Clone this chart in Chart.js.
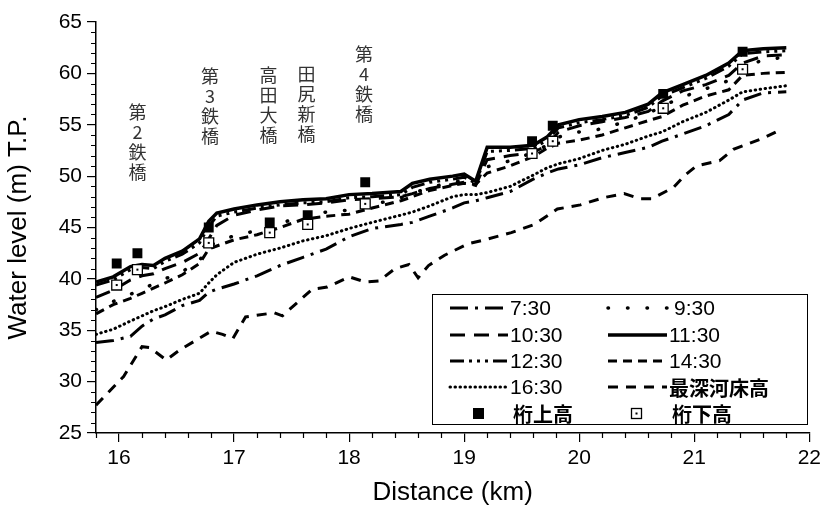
<!DOCTYPE html>
<html>
<head>
<meta charset="utf-8">
<script src="https://cdn.jsdelivr.net/npm/chart.js@4.4.1/dist/chart.umd.min.js"></script>
<style>
  html, body { margin: 0; padding: 0; background: #fff; }
</style>
</head>
<body>
<canvas id="chart" width="825" height="506"></canvas>
<script>
// distance (km) shared by the water surface profiles
var km = [15.8, 15.95, 16.1, 16.2, 16.3, 16.4, 16.55, 16.7, 16.78, 16.85, 17.0, 17.2, 17.4, 17.6, 17.8, 18.0, 18.2, 18.45, 18.55, 18.7,
  18.9, 19.0, 19.1, 19.2, 19.4, 19.6, 19.72, 19.82, 20.0, 20.2, 20.4, 20.6, 20.72, 20.9, 21.1, 21.3, 21.42, 21.6, 21.8]

var wl0730 = [33.8, 34.0, 34.4, 35.4, 36.1, 36.5, 37.4, 37.9, 38.7, 39.0, 39.5, 40.3, 41.3, 42.1, 42.9, 44.1, 44.9, 45.3, 45.5, 46.1,
  46.9, 47.4, 47.6, 47.9, 48.5, 49.7, 50.3, 50.7, 51.1, 51.8, 52.3, 52.8, 53.4, 54.1, 54.9, 56.0, 57.4, 58.1, 58.2]
var wl0930 = [37.0, 37.8, 38.5, 39.0, 39.5, 40.0, 40.7, 41.8, 43.2, 43.6, 44.2, 44.7, 45.4, 46.1, 46.5, 46.7, 47.2, 47.9, 48.3, 48.9,
  49.4, 49.6, 49.4, 50.9, 51.5, 52.3, 53.0, 53.8, 54.3, 54.6, 55.3, 56.1, 56.8, 57.7, 58.5, 59.3, 60.6, 61.3, 61.6]
var wl1030 = [38.2, 38.9, 39.9, 40.3, 40.5, 41.0, 41.6, 42.5, 43.9, 45.2, 46.2, 46.7, 47.1, 47.2, 47.4, 47.7, 47.8, 48.0, 48.3, 48.8,
  49.2, 49.4, 49.1, 51.6, 52.0, 52.3, 53.0, 54.3, 54.9, 55.3, 55.7, 56.3, 57.3, 58.3, 58.9, 59.8, 61.0, 61.7, 61.8]
var wl1130 = [39.7, 40.2, 41.2, 41.4, 41.3, 42.0, 42.7, 43.9, 45.6, 46.4, 46.8, 47.2, 47.5, 47.7, 47.8, 48.2, 48.3, 48.5, 49.3, 49.7,
  50.0, 50.2, 49.5, 52.8, 52.8, 53.0, 53.8, 55.0, 55.5, 55.8, 56.2, 57.0, 58.1, 58.9, 59.8, 61.0, 62.2, 62.4, 62.5]
var wl1230 = [39.4, 39.9, 40.9, 41.1, 41.0, 41.7, 42.4, 43.5, 45.1, 46.1, 46.5, 46.9, 47.2, 47.4, 47.5, 47.9, 48.0, 48.2, 48.9, 49.4,
  49.7, 49.9, 49.3, 52.4, 52.5, 52.7, 53.5, 54.7, 55.2, 55.5, 55.9, 56.7, 57.8, 58.6, 59.5, 60.7, 61.9, 62.1, 62.2]
var wl1430 = [36.6, 37.5, 38.1, 38.6, 39.1, 39.6, 40.4, 41.5, 42.9, 43.2, 43.8, 44.3, 45.0, 45.8, 46.1, 46.3, 46.9, 47.6, 48.0, 48.6,
  49.1, 49.3, 49.2, 50.3, 51.0, 51.9, 52.7, 53.2, 53.5, 54.0, 54.7, 55.4, 55.8, 56.9, 57.8, 58.4, 59.8, 60.0, 60.1]
var wl1630 = [34.6, 35.1, 35.9, 36.4, 36.9, 37.3, 38.0, 38.6, 39.6, 40.4, 41.6, 42.4, 43.0, 43.7, 44.2, 44.9, 45.5, 46.2, 46.5, 47.1,
  48.0, 48.2, 48.2, 48.4, 49.0, 50.1, 50.8, 51.2, 51.7, 52.5, 53.1, 53.9, 54.3, 55.3, 56.2, 57.4, 58.2, 58.5, 58.8]

// deepest river bed
var bedKm = [15.8, 16.04, 16.2, 16.27, 16.41, 16.53, 16.8, 16.9, 16.99, 17.1, 17.35, 17.42, 17.68, 17.81, 18.0, 18.14, 18.26, 18.4, 18.52, 18.6,
  18.69, 18.83, 19.03, 19.18, 19.41, 19.61, 19.81, 20.01, 20.21, 20.39, 20.53, 20.63, 20.82, 20.92, 21.02, 21.22, 21.34, 21.6, 21.71, 21.76]
var bedLevel = [27.7, 30.5, 33.4, 33.3, 32.1, 33.1, 34.9, 34.6, 34.2, 36.3, 36.7, 36.4, 39.0, 39.2, 40.2, 39.7, 39.8, 41.0, 41.4, 40.1,
  41.3, 42.3, 43.4, 43.8, 44.5, 45.3, 46.8, 47.2, 47.9, 48.3, 47.8, 47.8, 48.9, 50.1, 51.0, 51.5, 52.6, 53.7, 54.3, 54.2]

// bridge girders
var girderKm = [15.98, 16.16, 16.78, 17.31, 17.64, 18.14, 19.59, 19.77, 20.73, 21.42]
var girderTop = [41.5, 42.5, 45.0, 45.5, 46.2, 49.4, 53.4, 54.9, 58.0, 62.1]
var girderBottom = [39.4, 40.9, 43.5, 44.5, 45.3, 47.3, 52.2, 53.4, 56.6, 60.4]

// bridge names written vertically
var bridgeNames = ["第2鉄橋", "第3鉄橋", "高田大橋", "田尻新橋", "第4鉄橋"]
var bridgeKm = [16.16, 16.79, 17.30, 17.63, 18.13]
var bridgeY = [56.2, 59.7, 59.8, 59.9, 61.9]

var seriesLabels = ["7:30", "9:30", "10:30", "11:30", "12:30", "14:30", "16:30", "最深河床高", "桁上高", "桁下高"]

function pts(xs, ys) {
  return xs.map(function (x, i) { return { x: x, y: ys[i] } })
}

function lineSet(label, xs, ys, dash, width, cap) {
  return {
    label: label,
    data: pts(xs, ys),
    borderColor: "#000",
    borderWidth: width,
    borderDash: dash,
    borderCapStyle: cap || "butt",
    pointRadius: 0,
    fill: false,
    tension: 0
  }
}

var datasets = [
  lineSet(seriesLabels[0], km, wl0730, [18, 7, 3, 7], 3),
  lineSet(seriesLabels[1], km, wl0930, [0.5, 19], 3.5, "round"),
  lineSet(seriesLabels[2], km, wl1030, [15, 9], 3),
  lineSet(seriesLabels[3], km, wl1130, [], 3.5),
  lineSet(seriesLabels[4], km, wl1230, [14, 5, 3, 5, 3, 5, 3, 5], 3),
  lineSet(seriesLabels[5], km, wl1430, [9, 6], 3),
  lineSet(seriesLabels[6], km, wl1630, [0.5, 4.5], 3, "round"),
  lineSet(seriesLabels[7], bedKm, bedLevel, [10, 8], 3),
  {
    label: seriesLabels[8],
    data: pts(girderKm, girderTop),
    showLine: false,
    pointStyle: "rect",
    pointRadius: 7,
    backgroundColor: "#000",
    borderColor: "#000",
    borderWidth: 0,
    order: -1
  },
  {
    label: seriesLabels[9],
    data: pts(girderKm, girderBottom),
    showLine: false,
    pointStyle: "rect",
    pointRadius: 7,
    backgroundColor: "#fff",
    borderColor: "#000",
    borderWidth: 1.3,
    order: -1
  }
]

var FONT = "Liberation Sans, Arial, sans-serif"
var CJK = "'Noto Sans CJK JP', sans-serif"

// minor ticks, bridge names, legend box
var extras = {
  id: "extras",
  afterDraw: function (chart) {
    var ctx = chart.ctx
    var xs = chart.scales.x
    var ys = chart.scales.y
    var area = chart.chartArea
    ctx.save()
    ctx.strokeStyle = "#000"
    ctx.lineWidth = 1.2
    ctx.beginPath()
    for (var t = 158; t <= 220; t += 2) {
      if (t % 10 === 0) continue
      var px = Math.round(xs.getPixelForValue(t / 10)) + 0.5
      ctx.moveTo(px, area.bottom)
      ctx.lineTo(px, area.bottom + 5)
    }
    for (var v = 25; v <= 65; v++) {
      if (v % 5 === 0) continue
      var py = Math.round(ys.getPixelForValue(v)) + 0.5
      ctx.moveTo(area.left, py)
      ctx.lineTo(area.left - 5, py)
    }
    ctx.stroke()

    // dot in the middle of the open squares
    ctx.fillStyle = "#000"
    chart.getDatasetMeta(9).data.forEach(function (p) {
      ctx.fillRect(p.x - 1, p.y - 1, 2, 2)
    })

    // bridge names
    ctx.fillStyle = "#333"
    ctx.font = "18px " + CJK
    ctx.textAlign = "center"
    ctx.textBaseline = "middle"
    bridgeNames.forEach(function (name, i) {
      var cx = xs.getPixelForValue(bridgeKm[i])
      var cy = ys.getPixelForValue(bridgeY[i])
      Array.from(name).forEach(function (ch, j) {
        ctx.fillText(ch, cx, cy + j * 20)
      })
    })

    // legend
    var bx = 432.5, by = 294.5, bw = 375, bh = 130
    ctx.fillStyle = "#fff"
    ctx.fillRect(bx, by, bw, bh)
    ctx.strokeStyle = "#000"
    ctx.lineWidth = 1
    ctx.setLineDash([])
    ctx.strokeRect(bx, by, bw, bh)
    var rows = [308, 335, 361, 387, 413]
    var cols = [[450, 508], [608, 667]]
    ctx.textAlign = "left"
    chart.data.datasets.forEach(function (ds, i) {
      var c = cols[i % 2]
      var y = rows[Math.floor(i / 2)]
      ctx.fillStyle = "#000"
      if (ds.showLine === false) {
        var mx = c[0] + 28
        if (ds.backgroundColor === "#000") {
          ctx.fillRect(mx - 5, y - 5, 11, 11)
        } else {
          ctx.lineWidth = 1.3
          ctx.strokeRect(mx - 4.5, y - 4.5, 10, 10)
          ctx.fillRect(mx - 0.5, y - 0.5, 2, 2)
        }
        ctx.font = "bold 20px " + CJK
        ctx.fillText(ds.label, c[1] + 5, y + 1)
        return
      }
      ctx.save()
      ctx.lineWidth = ds.borderWidth
      ctx.lineCap = ds.borderCapStyle
      ctx.setLineDash(ds.borderDash)
      ctx.beginPath()
      ctx.moveTo(c[0], y)
      ctx.lineTo(c[1], y)
      ctx.stroke()
      ctx.restore()
      var tx = c[1] + 2
      if (/^[0-9:]+$/.test(ds.label)) {
        ctx.font = "21px " + FONT
        if (ds.label.length < 5) tx += 5
        if (i % 2 === 0) tx = c[1] + 2
      } else {
        ctx.font = "bold 20px " + CJK
      }
      ctx.fillText(ds.label, tx, y + 1)
    })
    ctx.restore()
  }
}

var config = {
  type: "line",
  data: { datasets: datasets },
  options: {
    responsive: false,
    animation: false,
    layout: { padding: { left: 0, right: 10, top: 22, bottom: 0 } },
    plugins: {
      legend: { display: false },
      tooltip: { enabled: false }
    },
    scales: {
      x: {
        type: "linear",
        min: 15.8,
        max: 22,
        afterBuildTicks: function (scale) {
          scale.ticks = [16, 17, 18, 19, 20, 21, 22].map(function (v) { return { value: v } })
        },
        afterFit: function (scale) { scale.height = 73 },
        ticks: {
          color: "#000",
          font: { family: FONT, size: 21 },
          padding: 4,
          maxRotation: 0,
          callback: function (v) { return v }
        },
        grid: { drawOnChartArea: false, drawTicks: true, tickLength: 9, color: "#000", lineWidth: 1.2 },
        border: { display: true, color: "#000", width: 1.5 },
        title: {
          display: true,
          text: "Distance (km)",
          color: "#000",
          font: { family: FONT, size: 26, lineHeight: 1 },
          padding: { top: 0, bottom: 0 }
        }
      },
      y: {
        min: 25,
        max: 65,
        afterFit: function (scale) { scale.width = 96 },
        ticks: {
          stepSize: 5,
          color: "#000",
          font: { family: FONT, size: 21 },
          padding: 5
        },
        grid: { drawOnChartArea: false, drawTicks: true, tickLength: 9, color: "#000", lineWidth: 1.2 },
        border: { display: true, color: "#000", width: 1.5 },
        title: {
          display: true,
          text: "Water level (m) T.P.",
          color: "#000",
          font: { family: FONT, size: 26, lineHeight: 1 },
          padding: { top: 6, bottom: 0 }
        }
      }
    }
  },
  plugins: [extras]
}

var chart = new Chart(document.getElementById("chart"), config)
</script>
</body>
</html>
